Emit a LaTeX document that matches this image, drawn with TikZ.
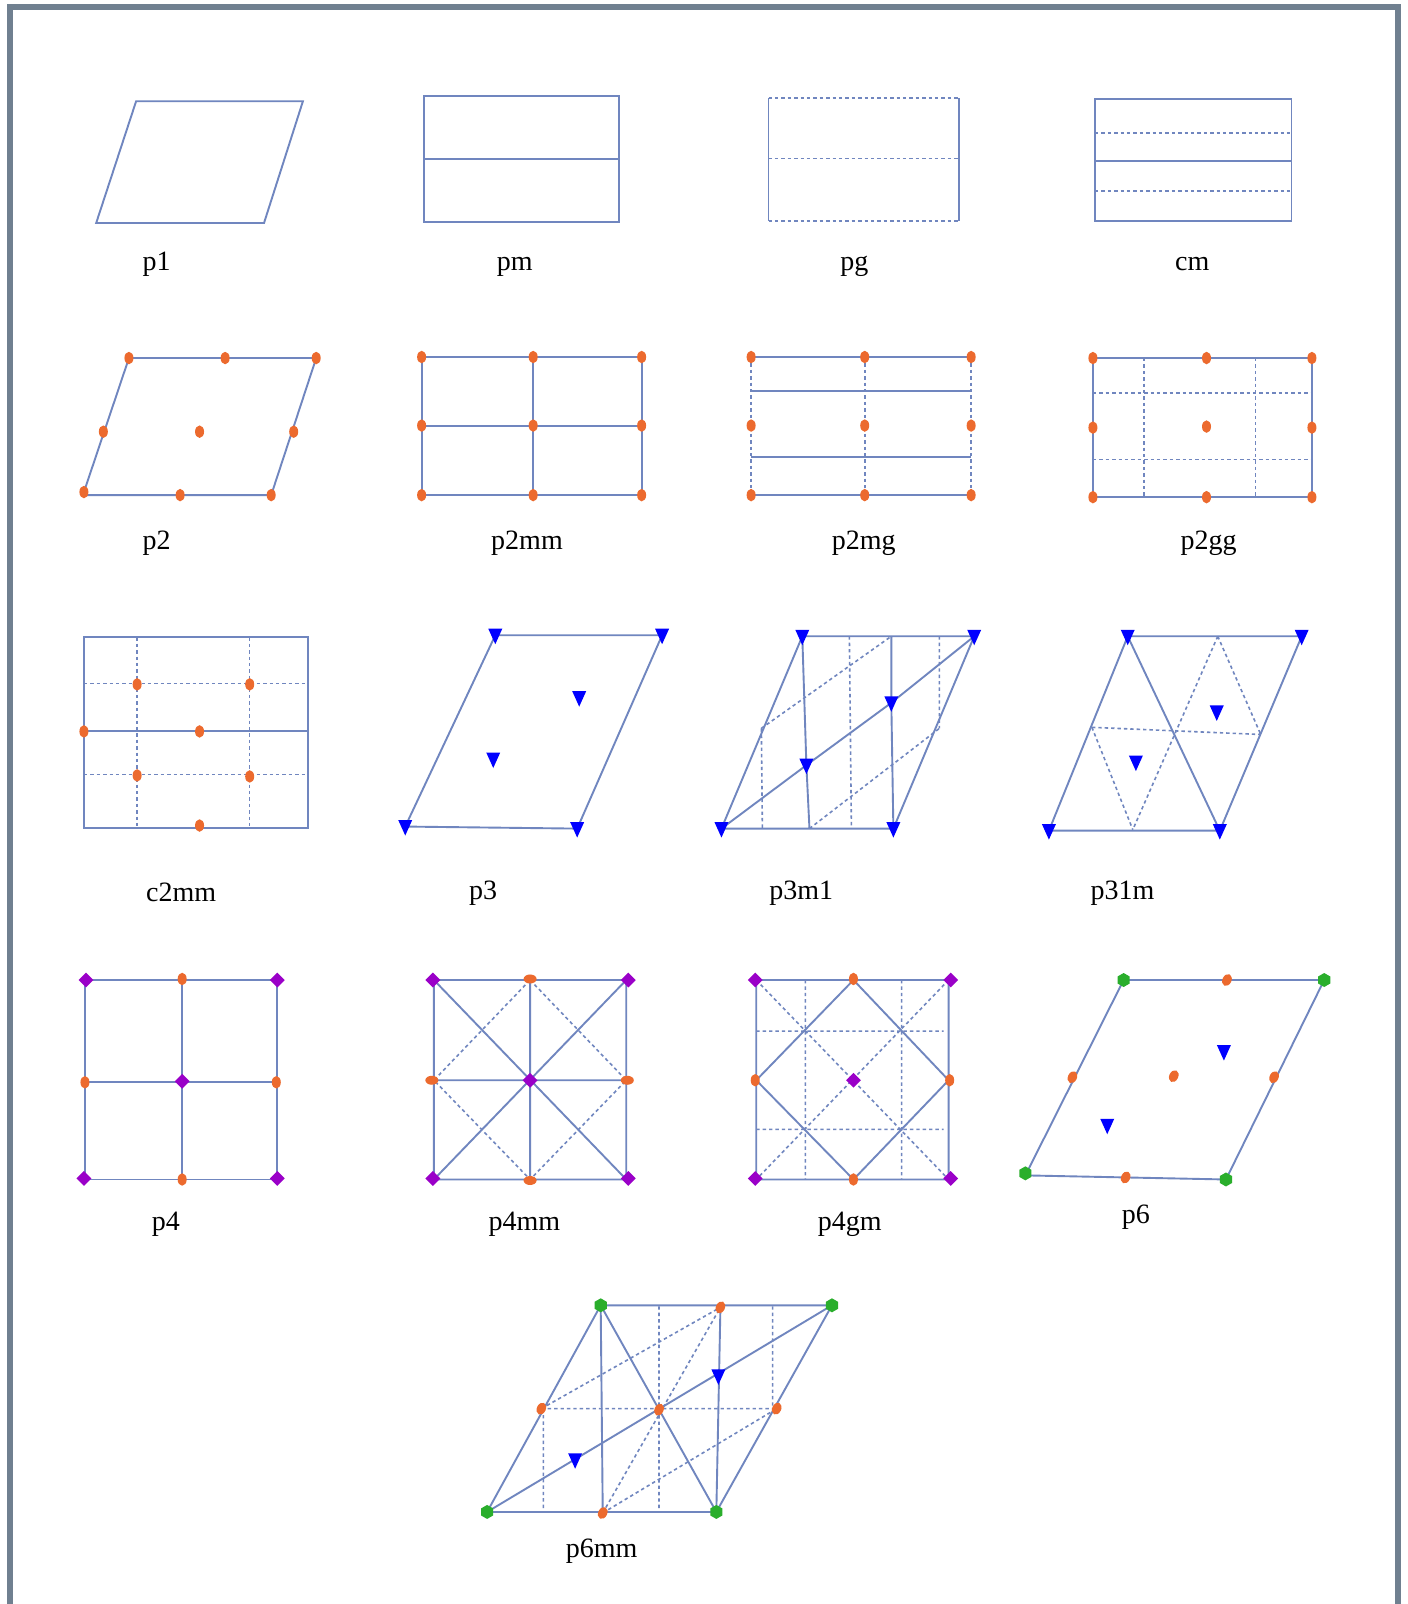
\documentclass[tikz,border=0pt]{standalone}
\usepackage{fontspec}
\setmainfont{Liberation Serif}
\usetikzlibrary{shapes.geometric}
\definecolor{ln}{HTML}{7086BF}
\definecolor{org}{HTML}{EC6A2E}
\definecolor{blu}{HTML}{0000FF}
\definecolor{pur}{HTML}{9A00C8}
\definecolor{grn}{HTML}{2AAE2C}
\definecolor{frm}{HTML}{708090}
\newcommand\pts[2]{\foreach \n/\x/\y in {#2} \coordinate (#1\n) at (\x,\y);}
\newcommand\mk[3]{\foreach \n in {#3} \node[#1] (m#2\n) at (#2\n) {};}
\tikzset{
 solidln/.style={draw=ln,line width=1.9pt},
 dashln/.style={draw=ln,line width=1.6pt,dash pattern=on 3.4pt off 3pt},
 odot/.style={ellipse,fill=org,inner sep=0pt,minimum width=9pt,minimum height=12.5pt},
 odoth/.style={ellipse,fill=org,inner sep=0pt,minimum width=13pt,minimum height=9pt},
 odotr/.style={odot,rotate=-25},
 tri/.style={isosceles triangle,isosceles triangle stretches=true,shape border rotate=-90,fill=blu,inner sep=0pt,minimum width=14pt,minimum height=15.5pt,yshift=2pt},
 dia/.style={diamond,aspect=1,fill=pur,inner sep=0pt,minimum size=15pt},
 hexa/.style={regular polygon,regular polygon sides=6,shape border rotate=30,fill=grn,inner sep=0pt,minimum size=14pt},
 lab/.style={font=\fontsize{28}{30}\selectfont,text=black,inner sep=0pt,anchor=base}
}
\begin{document}
\begin{tikzpicture}[x=1.02327pt,y=-1.02291pt]
\useasboundingbox (0,0) rectangle (1375,1568);
\fill[white] (0,0) rectangle (1375,1568);
\coordinate (fa) at (10,1580);\coordinate (fb) at (10,7);\coordinate (fc) at (1366,7);\coordinate (fd) at (1366,1580);
\draw[frm,line width=5.5pt] (fa) -- (fb) -- (fc) -- (fd);

% p1
\pts{p1}{a/133/99,b/296/99,c/258/218,d/94/218}
\draw[solidln] (p1a) -- (p1b) -- (p1c) -- (p1d) -- cycle;
\node[lab] (lp1) at (153,264) {p1};
% pm
\pts{pm}{a/414/94,b/605/94,c/605/217,d/414/217,e/414/155,f/605/155}
\draw[solidln] (pma) -- (pmb) -- (pmc) -- (pmd) -- cycle (pme) -- (pmf);
\node[lab] (lpm) at (503,264) {pm};
% pg
\pts{pg}{a/751/96,b/937/96,c/937/216,d/751/216,e/751/155,f/937/155}
\draw[solidln] (pga) -- (pgd) (pgb) -- (pgc);
\draw[dashln] (pga) -- (pgb) (pgd) -- (pgc) (pge) -- (pgf);
\node[lab] (lpg) at (835,264) {pg};
% cm
\pts{cm}{a/1070/97,b/1262/97,c/1262/216,d/1070/216,e/1070/157,f/1262/157,g/1070/130,h/1262/130,i/1070/187,j/1262/187}
\draw[solidln] (cma) -- (cmb) -- (cmc) -- (cmd) -- cycle (cme) -- (cmf);
\draw[dashln] (cmg) -- (cmh) (cmi) -- (cmj);
\node[lab] (lcm) at (1165,264) {cm};

% p2
\pts{pb}{a/126/350,b/220/350,c/309/350,d/101/422,e/195/422,f/287/422,g/82/481,h/176/484,i/265/484,j/83/484}
\draw[solidln] (pba) -- (pbc) -- (pbi) -- (pbj) -- (pbg) -- cycle;
\mk{odot}{pb}{a,b,c,d,e,f,g,h,i}
\node[lab] (lp2) at (153,537) {p2};
% p2mm
\pts{pc}{a/412/349,b/521/349,c/627/349,d/412/416,e/521/416,f/627/416,g/412/484,h/521/484,i/627/484}
\draw[solidln] (pca) -- (pcc) -- (pci) -- (pcg) -- cycle (pcb) -- (pch) (pcd) -- (pcf);
\mk{odot}{pc}{a,b,c,d,e,f,g,h,i}
\node[lab] (lp2mm) at (515,537) {p2mm};
% p2mg
\pts{pd}{a/734/349,b/845/349,c/949/349,d/734/416,e/845/416,f/949/416,g/734/484,h/845/484,i/949/484,j/734/382,k/949/382,l/734/447,m/949/447}
\draw[solidln] (pda) -- (pdc) (pdg) -- (pdi) (pdj) -- (pdk) (pdl) -- (pdm);
\draw[dashln] (pda) -- (pdg) (pdb) -- (pdh) (pdc) -- (pdi);
\mk{odot}{pd}{a,b,c,d,e,f,g,h,i}
\node[lab] (lp2mg) at (844,537) {p2mg};
% p2gg
\pts{pe}{a/1068/350,b/1179/350,c/1282/350,d/1068/418,e/1179/417,f/1282/418,g/1068/486,h/1179/486,i/1282/486,j/1068/384,k/1282/384,l/1068/449,m/1282/449,n/1118/350,o/1118/486,q/1227/350,r/1227/486}
\draw[solidln] (pea) -- (pec) -- (pei) -- (peg) -- cycle;
\draw[dashln] (pej) -- (pek) (pel) -- (pem) (pen) -- (peo) (peq) -- (per);
\mk{odot}{pe}{a,b,c,d,e,f,g,h,i}
\node[lab] (lp2gg) at (1181,537) {p2gg};

% c2mm
\pts{cc}{a/82/623,b/301/623,c/301/809,d/82/809,e/82/715,f/301/715,g/195/715,h/82/668,i/298/668,j/82/757,k/298/757,l/134/623,m/134/809,n/244/623,o/244/809,q/134/669,r/244/669,s/134/758,t/244/759,u/195/807}
\draw[solidln] (cca) -- (ccb) -- (ccc) -- (ccd) -- cycle (cce) -- (ccf);
\draw[dashln] (cch) -- (cci) (ccj) -- (cck) (ccl) -- (ccm) (ccn) -- (cco);
\mk{odot}{cc}{e,g,q,r,s,t,u}
\node[lab] (lc2mm) at (177,881) {c2mm};
% p3
\pts{pf}{a/484/621,b/647/621,c/564/810,d/396/808,e/566/682,f/482/742}
\draw[solidln] (pfa) -- (pfb) -- (pfc) -- (pfd) -- cycle;
\mk{tri}{pf}{a,b,c,d,e,f}
\node[lab] (lp3) at (472,879) {p3};
% p3m1
\pts{pj}{a/784/622,b/952/622,c/873/810,d/705/810,e/871/622,f/871/687,g/788/748,h/791/810,i/830/622,j/832/810,k/918/622,l/918/712,m/744/712,n/745/810}
\draw[solidln] (pja) -- (pjb) -- (pjc) -- (pjd) -- cycle (pja) -- (pjg) -- (pjh) (pje) -- (pjf) -- (pjc) (pjd) -- (pjg) -- (pjf) -- (pjb);
\draw[dashln] (pji) -- (pjj) (pjk) -- (pjl) (pjm) -- (pjn) (pjm) -- (pje) (pjh) -- (pjl);
\mk{tri}{pj}{a,b,c,d,f,g}
\node[lab] (lp3m1) at (783,879) {p3m1};
% p31m
\pts{ph}{a/1102/622,b/1272/622,c/1192/812,d/1025/812,e/1189/696,f/1110/745,g/1190/622,h/1107/811,i/1067/711,j/1232/718}
\draw[solidln] (pha) -- (phb) -- (phc) -- (phd) -- cycle (pha) -- (phc);
\draw[dashln] (phg) -- (phh) (phg) -- (phj) (phi) -- (phj) (phi) -- (phh);
\mk{tri}{ph}{a,b,c,d,e,f}
\node[lab] (lp31m) at (1097,879) {p31m};

% p4
\pts{pk}{a/83/958,b/178/957,c/271/958,d/83/1058,e/178/1057,f/270/1058,g/83/1153,h/178/1153,i/271/1153,ma/84/958,mc/271/958,mg/82/1152,mi/271/1152}
\draw[solidln] (pka) -- (pkc) -- (pki) -- (pkg) -- cycle (pkb) -- (pkh) (pkd) -- (pkf);
\mk{dia}{pk}{ma,mc,e,mg,mi}
\mk{odot}{pk}{b,d,f,h}
\node[lab] (lp4) at (162,1203) {p4};
% p4mm
\pts{pl}{a/424/958,b/518/958,c/612/958,d/424/1056,e/518/1056,f/612/1056,g/424/1153,h/518/1153,i/612/1153,ma/423/958,mc/614/958,mg/423/1152,mi/614/1152,mb/518/957,md/422/1056,mf/613/1056,mh/518/1154}
\draw[solidln] (pla) -- (plc) -- (pli) -- (plg) -- cycle (plb) -- (plh) (pld) -- (plf) (pla) -- (pli) (plc) -- (plg);
\draw[dashln] (plb) -- (plf) -- (plh) -- (pld) -- cycle;
\mk{dia}{pl}{ma,mc,e,mg,mi}
\mk{odoth}{pl}{mb,md,mf,mh}
\node[lab] (lp4mm) at (512.5,1203) {p4mm};
% p4gm
\pts{pn}{a/739/958,b/834/958,c/927/958,d/739/1056,e/834/1056,f/927/1056,g/739/1153,h/834/1153,i/927/1153,j/739/1008,k/922/1008,l/739/1104,m/922/1104,o/787/958,q/787/1153,r/881/958,s/881/1153,ma/738/958,mc/929/958,mg/738/1152,mi/929/1152,mb/834/957,md/738/1056,mf/928/1056}
\draw[solidln] (pna) -- (pnc) -- (pni) -- (png) -- cycle (pnb) -- (pnf) -- (pnh) -- (pnd) -- cycle;
\draw[dashln] (pna) -- (pni) (pnc) -- (png) (pnj) -- (pnk) (pnl) -- (pnm) (pno) -- (pnq) (pnr) -- (pns);
\mk{dia}{pn}{ma,mc,e,mg,mi}
\mk{odot}{pn}{mb,md,mf,h}
\node[lab] (lp4gm) at (830.5,1203) {p4gm};
% p6
\pts{po}{a/1098/958,b/1294/958,c/1198/1153,d/1002/1149,e/1199/958,f/1048/1053,g/1147/1052,h/1245/1053,i/1100/1151,j/1196/1028,k/1082/1100,md/1002/1147}
\draw[solidln] (poa) -- (pob) -- (poc) -- (pod) -- cycle;
\mk{hexa}{po}{a,b,c,md}
\mk{odotr}{po}{e,f,g,h,i}
\mk{tri}{po}{j,k}
\node[lab] (lp6) at (1110,1196) {p6};
% p6mm
\pts{pq}{a/587/1276,b/813/1276,c/700/1478,d/476/1478,e/704/1278,f/529/1377,g/644/1378,h/759/1377,i/589/1479,j/702/1345,k/562/1427,l/644/1277,m/644/1478,n/755/1277,o/755/1377,p/531/1377,q/531/1478}
\draw[solidln] (pqa) -- (pqb) -- (pqc) -- (pqd) -- cycle (pqd) -- (pqb) (pqa) -- (pqi) (pqe) -- (pqc) (pqa) -- (pqc);
\draw[dashln] (pql) -- (pqm) (pqn) -- (pqo) (pqp) -- (pqq) (pqf) -- (pqh) (pqf) -- (pqe) (pqi) -- (pqh) (pqi) -- (pqe);
\mk{hexa}{pq}{a,b,c,d}
\mk{odotr}{pq}{e,f,g,h,i}
\mk{tri}{pq}{j,k}
\node[lab] (lp6mm) at (588,1523) {p6mm};
\end{tikzpicture}
\end{document}
